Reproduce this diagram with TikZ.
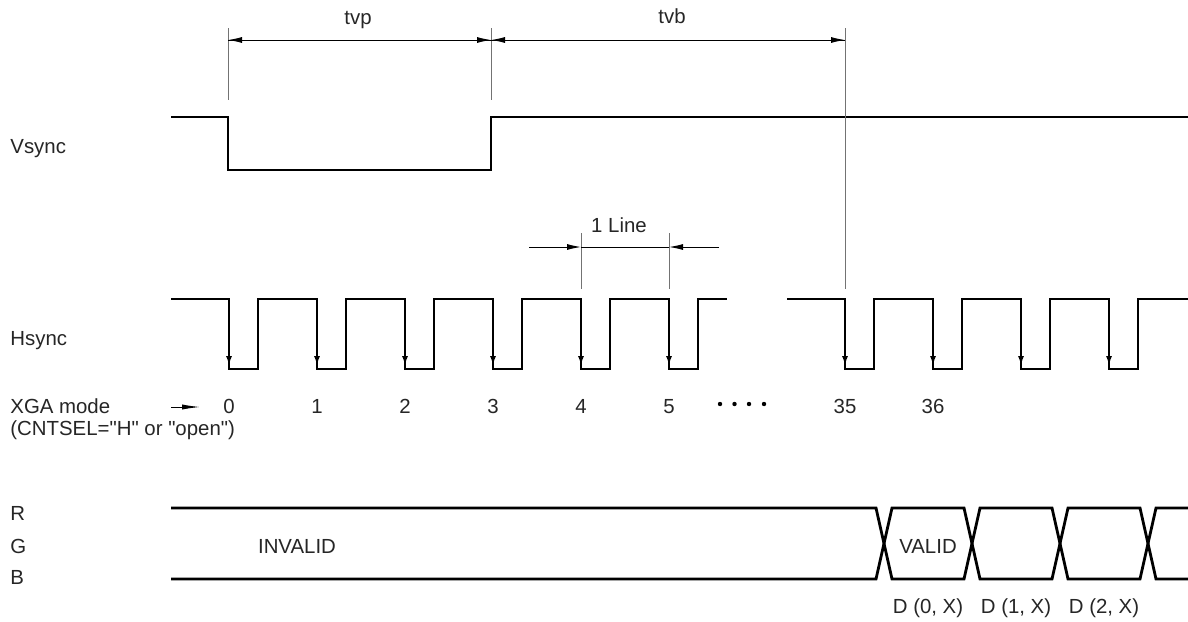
\documentclass[tikz,border=0pt]{standalone}
\usepackage{fontspec}
\setmainfont{Liberation Sans}[Ligatures=TeXOff]
\usetikzlibrary{arrows.meta,positioning}
\tikzset{
  sig/.style      = {line width=1.4pt, line join=miter},
  guide/.style    = {line width=0.5pt, draw=black!55},
  dimline/.style  = {line width=0.5pt},
  dimtip/.style   = {-{Latex[length=7pt,width=3pt]}},
  falltip/.style  = {line width=1.4pt, -{Latex[length=6.5pt,width=2.8pt]}},
  lbl/.style      = {inner sep=0pt, text=black!85, font=\fontsize{10.2}{12}\selectfont}
}

\begin{document}
\begin{tikzpicture}[x=0.5pt,y=-0.5pt]
\useasboundingbox[fill=white] (0,0) rectangle (1188,621);

% signal names
\node[lbl,anchor=base west] (vsync) at (10,153) {Vsync};
\node[lbl,anchor=base west] (hsync) at (10,345) {Hsync};
\node[lbl,anchor=base west] (xga) at (10,413) {XGA mode};
\node[lbl,anchor=base west] (cntsel) at (10,435) {(CNTSEL="H" or "open")};
\node[lbl,anchor=base west] (rr) at (10,520) {R};
\node[lbl,anchor=base west] (gg) at (10,553) {G};
\node[lbl,anchor=base west] (bb) at (10,584) {B};

% Vsync
\draw[sig] (171,117) -- (228,117) -- (228,170) -- (491,170) -- (491,117) -- (1188,117);

% Hsync
\draw[sig] (171,299) foreach \f in {229,317,...,669} { -- (\f,299) -- (\f,369) -- (\f+29,369) -- (\f+29,299) } -- (727,299);
\draw[sig] (787,299) foreach \f in {845,933,...,1109} { -- (\f,299) -- (\f,369) -- (\f+29,369) -- (\f+29,299) } -- (1188,299);
\foreach \f in {229,317,...,669,845,933,...,1109}
  \draw[falltip] (\f,299) -- (\f,369);

% line count
\coordinate (xs) at (171,407);
\coordinate (xe) at (200,407);
\draw[dimline,-{Latex[length=9pt,width=2.6pt]}] (xs) -- (xe);
\foreach \n/\x in {0/229,1/317,2/405,3/493,4/581,5/669,35/845,36/933}
  \node[lbl,anchor=base] (n\n) at (\x,413) {\n};
\foreach \x in {720,734.5,749,764}
  \fill (\x,404) circle (1.1pt);

% RGB data
\draw[sig] (171,508) -- (876,508) foreach \c in {884,1060} { -- (\c+8,579) -- (\c+80,579) -- (\c+96,508) -- (\c+168,508) } -- (1188,508);
\draw[sig] (171,579) -- (876,579) foreach \c in {884,1060} { -- (\c+8,508) -- (\c+80,508) -- (\c+96,579) -- (\c+168,579) } -- (1188,579);
\node[lbl,anchor=base] (invalid) at (297,553) {INVALID};
\node[lbl,anchor=base] (valid) at (928,553) {VALID};
\node[lbl,anchor=base] (d0) at (928,613) {D (0, X)};
\node[lbl,anchor=base] (d1) at (1016,613) {D (1, X)};
\node[lbl,anchor=base] (d2) at (1104,613) {D (2, X)};

% tvp / tvb
\coordinate (p0) at (228,40);
\coordinate (p1) at (491,40);
\coordinate (p2) at (845,40);
\draw[guide] (228,28) -- (228,100);
\draw[guide] (491,28) -- (491,100);
\draw[guide] (845,28) -- (845,289);
\draw[dimline,dimtip] (p1) -- (p0);
\draw[dimline,dimtip] (p0) -- (p1);
\draw[dimline,dimtip] (p2) -- (p1);
\draw[dimline,dimtip] (p1) -- (p2);
\node[lbl,anchor=base] (tvp) at (358,25) {tvp};
\node[lbl,anchor=base] (tvb) at (672,24) {tvb};

% 1 Line
\coordinate (la) at (529,247);
\coordinate (l0) at (581,247);
\coordinate (l1) at (669,247);
\coordinate (lb) at (719,247);
\draw[guide] (581,233) -- (581,289);
\draw[guide] (669,233) -- (669,289);
\draw[dimline,dimtip] (la) -- (l0);
\draw[dimline,dimtip] (lb) -- (l1);
\draw[dimline] (l0) -- (l1);
\node[lbl,anchor=base] (oneline) at (619,232) {1 Line};
\end{tikzpicture}
\end{document}
